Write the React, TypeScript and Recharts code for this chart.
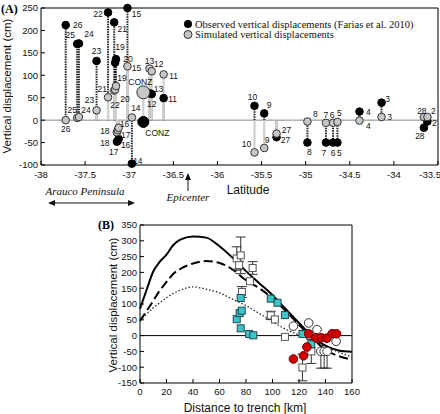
import React from "react";
import {
  ComposedChart,
  ErrorBar,
  Line,
  ReferenceLine,
  Scatter,
  ScatterChart,
  XAxis,
  YAxis,
} from "recharts";

// ---- panel A: coastal uplift along latitude ----
const LAT_TICKS = [-38, -37.5, -37, -36.5, -36, -35.5, -35, -34.5, -34, -33.5];
const DISP_TICKS_A = [-100, -50, 0, 50, 100, 150, 200, 250];

const STATIONS = ["26", "25", "24", "23", "22", "21", "20", "19", "15", "18", "17", "16", "14", "CONZ", "13", "12", "11", "10", "9", "27", "8", "7", "6", "5", "4", "3", "28", "2"];
const STATION_LAT = [-37.72, -37.59, -37.57, -37.37, -37.24, -37.17, -37.16, -37.15, -37.02, -37.14, -37.13, -37.12, -36.97, -36.84, -36.77, -36.745, -36.61, -35.58, -35.47, -35.33, -34.98, -34.77, -34.69, -34.64, -34.39, -34.14, -33.66, -33.62];
const OBSERVED = [212, 170, 171, 132, 240, 218, 128, 136, 250, -48, -46, -42, -97, -4, 60, 58, 49, 32, 15, -38, -50, -50, -50, -50, 19, 39, -17, -3];
const SIMULATED = [0, 5, 7, 22, 51, 66, 68, 76, 120, -27, -22, -17, 6, 62, 115, 109, 102, -72, -62, -30, -3, -6, -6, -4, -1, 7, 7, 7];

// ---- panel B: profile vs distance to trench ----
const KM_TICKS = [0, 20, 40, 60, 80, 100, 120, 140, 160];
const DISP_TICKS_B = [-150, -100, -50, 0, 50, 100, 150, 200, 250, 300, 350];

const MODEL_KM = [0, 5, 10, 15, 20, 25, 30, 40, 50, 60, 70, 80, 90, 100, 110, 120, 130, 140, 150, 160];
const MODEL_SOLID = [85, 145, 203, 234, 256, 286, 303, 314, 310, 283, 246, 204, 166, 128, 84, 40, -2, -32, -47, -51];
const MODEL_DASHED = [47, 78, 110, 143, 170, 195, 210, 228, 236, 230, 209, 175, 150, 118, 78, 34, -8, -45, -65, -76];
const MODEL_DOTTED = [47, 68, 88, 104, 120, 133, 143, 154, 147, 135, 115, 95, 70, 44, 20, 2, -15, -35, -52, -68];

const SQUARE_KM = [73, 76, 74.8, 76.9, 83, 85, 98.7, 101.8, 109.4, 122.6, 129.3];
const SQUARE_V = [244, 254, 223, 138, 172, 214, 64, 51, -4, -101, -50];
const SQUARE_ERR = [37, 58, 12, 17, 0, 20, 13, 0, 0, 42, 38];

const CYAN_KM = [73, 75.2, 76.8, 76, 76, 82.4, 85.5, 98.7, 103.8, 109.4, 122.6, 129.3];
const CYAN_V = [52, 71, 79, 119, 23, 5, 1, 117, 104, 65, 5, -27];

const CIRCLE_KM = [115.8, 127.3, 133.6, 136.5, 139, 141.2, 148];
const CIRCLE_V = [30, 40, 19, -50, -50, -50, -18];
const CIRCLE_ERR_DOWN = [0, 0, 0, 53, 53, 53, 0];

const RED_KM = [115.8, 123.4, 126, 127.3, 132.8, 137, 141, 145, 148.3];
const RED_V = [-74, -64, -36, 6, -7, -7, -8, 6, 6];

// label placement (dx, dy from marker centre)
const OBS_LABEL_OFFSET: Record<string, [number, number]> = {
  "26": [12, 0], "25": [-7, -9], "24": [10, -9], "23": [0, -10], "22": [-10, 2], "21": [8, 7],
  "20": [13, -4], "19": [4, -12], "15": [9, 6], "18": [-12, 1], "17": [-4, 11], "16": [7, 6],
  "14": [6, -3], CONZ: [14, 11], "13": [9, -4], "12": [0, 10], "11": [9, 1], "10": [-2, -9],
  "9": [5, -8], "27": [9, 3], "8": [2, 9], "7": [-2, 10], "6": [0, 10], "5": [2, 10],
  "4": [9, 0], "3": [6, -4], "28": [-4, 8], "2": [7, 2],
};
const SIM_LABEL_OFFSET: Record<string, [number, number]> = {
  "26": [0, 9], "25": [-5, -8], "24": [7, -7], "23": [-7, -10], "22": [7, 8], "21": [-12, -2],
  "20": [10, 9], "19": [6, -8], "15": [9, 2], "18": [-12, -1], "17": [8, 5], "16": [6, -4],
  "14": [4, -9], CONZ: [-3, -10], "13": [0, -8], "12": [7, -7], "11": [10, 2], "10": [-8, -8],
  "9": [3, -8], "27": [10, -4], "8": [8, -7], "7": [0, -8], "6": [-1, -8], "5": [2, -9],
  "4": [9, 5], "3": [8, 0], "28": [-2, -6], "2": [6, -6],
};

const SANS = "Liberation Sans, Arial, sans-serif";
const SERIF = "Liberation Serif, Times New Roman, serif";

const obsPoints = STATIONS.map((name, i) => ({ name, lat: STATION_LAT[i], v: OBSERVED[i] }));
const simPoints = STATIONS.map((name, i) => ({ name, lat: STATION_LAT[i], v: SIMULATED[i] }));

const modelData = (vals: number[]) => MODEL_KM.map((km, i) => ({ km, v: vals[i] }));
const squaresErr = SQUARE_KM.map((km, i) => ({ km, v: SQUARE_V[i], err: SQUARE_ERR[i] })).filter((d) => d.err > 0);
const squaresPlain = SQUARE_KM.map((km, i) => ({ km, v: SQUARE_V[i], err: SQUARE_ERR[i] })).filter((d) => d.err === 0);
const cyanData = CYAN_KM.map((km, i) => ({ km, v: CYAN_V[i] }));
const circlesErr = CIRCLE_KM.map((km, i) => ({ km, v: CIRCLE_V[i], err: [CIRCLE_ERR_DOWN[i], 0] })).filter((d) => d.err[0] > 0);
const circlesPlain = CIRCLE_KM.map((km, i) => ({ km, v: CIRCLE_V[i] })).filter((_, i) => CIRCLE_ERR_DOWN[i] === 0);
const redData = RED_KM.map((km, i) => ({ km, v: RED_V[i] }));

const tickStyle = { fontSize: 9.5, fill: "#111", fontFamily: SANS };

const stationDot = (kind: "obs" | "sim") => (props: any) => {
  const { cx, cy, payload } = props;
  if (cx == null || cy == null) return <g />;
  const big = payload.name === "CONZ";
  const r = big ? (kind === "obs" ? 5.5 : 6.5) : 3.8;
  return (
    <circle
      cx={cx}
      cy={cy}
      r={r}
      fill={kind === "obs" ? "#000" : "#c6c6c6"}
      stroke={kind === "obs" ? "#000" : "#333"}
      strokeWidth={1}
    />
  );
};

const stationLabel = (kind: "obs" | "sim") => (props: any) => {
  const { cx, cy, payload } = props;
  if (cx == null || cy == null) return <g />;
  const off = (kind === "obs" ? OBS_LABEL_OFFSET : SIM_LABEL_OFFSET)[payload.name] ?? [8, 0];
  return (
    <text
      x={cx + off[0]}
      y={cy + off[1]}
      textAnchor="middle"
      dominantBaseline="central"
      fontSize={8.5}
      fontFamily={SANS}
      fill="#111"
    >
      {payload.name}
    </text>
  );
};

const square = (fill: string, stroke: string) => (props: any) => {
  const { cx, cy } = props;
  if (cx == null || cy == null) return <g />;
  return <rect x={cx - 3.5} y={cy - 3.5} width={7} height={7} fill={fill} stroke={stroke} strokeWidth={1} />;
};

const dot = (fill: string, stroke: string) => (props: any) => {
  const { cx, cy } = props;
  if (cx == null || cy == null) return <g />;
  return <circle cx={cx} cy={cy} r={4.3} fill={fill} stroke={stroke} strokeWidth={1} />;
};

function PanelA() {
  return (
    <ScatterChart width={440} height={185} margin={{ top: 7, right: 1, bottom: 0, left: 11 }}>
      <XAxis
        type="number"
        dataKey="lat"
        domain={[-38, -33.5]}
        ticks={LAT_TICKS}
        height={20}
        tickSize={-4}
        tickMargin={10}
        tick={tickStyle}
        stroke="#000"
      />
      <XAxis
        xAxisId="top"
        orientation="top"
        type="number"
        domain={[-38, -33.5]}
        ticks={LAT_TICKS}
        height={1}
        tickSize={-4}
        tick={false}
        allowDataOverflow
        stroke="#000"
      />
      <YAxis
        type="number"
        dataKey="v"
        domain={[-100, 250]}
        ticks={DISP_TICKS_A}
        width={30}
        tickSize={-4}
        tickMargin={7}
        tick={tickStyle}
        stroke="#000"
      />
      <YAxis
        yAxisId="right"
        orientation="right"
        type="number"
        domain={[-100, 250]}
        ticks={DISP_TICKS_A}
        width={1}
        tickSize={-4}
        tick={false}
        allowDataOverflow
        stroke="#000"
      />
      <ReferenceLine y={0} stroke="#888" strokeWidth={1} />
      {obsPoints.map((p) => (
        <ReferenceLine
          key={`o-${p.name}`}
          segment={[{ x: p.lat, y: 0 }, { x: p.lat, y: p.v }]}
          stroke="#222"
          strokeWidth={2}
          strokeDasharray="1.5 1"
        />
      ))}
      {simPoints.map((p) => (
        <ReferenceLine
          key={`s-${p.name}`}
          segment={[{ x: p.lat, y: 0 }, { x: p.lat, y: p.v }]}
          stroke="#cfcfcf"
          strokeWidth={2.2}
        />
      ))}
      <Scatter data={obsPoints} shape={stationDot("obs")} isAnimationActive={false} />
      <Scatter data={simPoints} shape={stationDot("sim")} isAnimationActive={false} />
      <Scatter data={obsPoints} shape={stationLabel("obs")} isAnimationActive={false} />
      <Scatter data={simPoints} shape={stationLabel("sim")} isAnimationActive={false} />
    </ScatterChart>
  );
}

function PanelB() {
  return (
    <ComposedChart width={440} height={199} margin={{ top: 9, right: 87, bottom: 11, left: 110 }}>
      <XAxis
        type="number"
        dataKey="km"
        domain={[0, 160]}
        ticks={KM_TICKS}
        height={20}
        tickSize={-4}
        tickMargin={9}
        tick={tickStyle}
        stroke="#000"
      />
      <XAxis
        xAxisId="top"
        orientation="top"
        type="number"
        domain={[0, 160]}
        ticks={KM_TICKS}
        height={1}
        tickSize={-4}
        tick={false}
        allowDataOverflow
        stroke="#000"
      />
      <YAxis
        type="number"
        dataKey="v"
        domain={[-150, 350]}
        ticks={DISP_TICKS_B}
        width={30}
        tickSize={-4}
        tickMargin={7}
        tick={tickStyle}
        stroke="#000"
      />
      <YAxis
        yAxisId="right"
        orientation="right"
        type="number"
        domain={[-150, 350]}
        ticks={DISP_TICKS_B}
        width={1}
        tickSize={-4}
        tick={false}
        allowDataOverflow
        stroke="#000"
      />
      <ReferenceLine y={0} stroke="#000" strokeWidth={1} />
      <Line data={modelData(MODEL_SOLID)} dataKey="v" type="monotone" stroke="#000" strokeWidth={2} dot={false} isAnimationActive={false} />
      <Line data={modelData(MODEL_DASHED)} dataKey="v" type="monotone" stroke="#000" strokeWidth={2} strokeDasharray="9 4" dot={false} isAnimationActive={false} />
      <Line data={modelData(MODEL_DOTTED)} dataKey="v" type="monotone" stroke="#222" strokeWidth={1.3} strokeDasharray="1.5 2" dot={false} isAnimationActive={false} />
      <Scatter data={squaresErr} shape={square("#fff", "#555")} isAnimationActive={false}>
        <ErrorBar dataKey="err" direction="y" width={5} stroke="#333" strokeWidth={1} />
      </Scatter>
      <Scatter data={squaresPlain} shape={square("#fff", "#555")} isAnimationActive={false} />
      <Scatter data={cyanData} shape={square("#3cc6c8", "#1d4a55")} isAnimationActive={false} />
      <Scatter data={circlesErr} shape={dot("#fff", "#333")} isAnimationActive={false}>
        <ErrorBar dataKey="err" direction="y" width={5} stroke="#333" strokeWidth={1} />
      </Scatter>
      <Scatter data={circlesPlain} shape={dot("#fff", "#333")} isAnimationActive={false} />
      <Scatter data={redData} shape={dot("#d40000", "#6a0000")} isAnimationActive={false} />
    </ComposedChart>
  );
}

export default function App() {
  return (
    <div style={{ position: "absolute", left: 0, top: 0, width: 440, height: 414, background: "#fff", fontFamily: SANS }}>
      <div style={{ position: "absolute", left: 0, top: 0 }}>
        <PanelA />
      </div>
      <div style={{ position: "absolute", left: 0, top: 215 }}>
        <PanelB />
      </div>
      <svg width={440} height={414} style={{ position: "absolute", left: 0, top: 0, pointerEvents: "none" }}>
        {/* panel A annotations */}
        <text x={1} y={13} fontFamily={SERIF} fontWeight="bold" fontSize={12}>(A)</text>
        <text transform="translate(11,86) rotate(-90)" textAnchor="middle" fontFamily={SANS} fontSize={11.5} fill="#111">
          Vertical displacement (cm)
        </text>
        <text x={248} y={194} textAnchor="middle" fontFamily={SANS} fontSize={12} fill="#111">Latitude</text>
        <circle cx={188} cy={24} r={4} fill="#000" />
        <circle cx={188} cy={34.5} r={4} fill="#c6c6c6" stroke="#333" strokeWidth={1} />
        <text x={195} y={27.5} fontFamily={SERIF} fontSize={10.5} fill="#111">
          Observed vertical displacements (Farias et al. 2010)
        </text>
        <text x={195} y={38} fontFamily={SERIF} fontSize={10.5} fill="#111">
          Simulated vertical displacements
        </text>
        <text x={85} y={195} textAnchor="middle" fontFamily={SERIF} fontStyle="italic" fontSize={11} fill="#111">
          Arauco Peninsula
        </text>
        <line x1={53} y1={203} x2={130} y2={203} stroke="#111" strokeWidth={1} />
        <polygon points="48,203 55,200 55,206" fill="#111" />
        <polygon points="135,203 128,200 128,206" fill="#111" />
        <text x={188} y={201} textAnchor="middle" fontFamily={SERIF} fontStyle="italic" fontSize={11} fill="#111">
          Epicenter
        </text>
        <line x1={188} y1={191} x2={188} y2={178} stroke="#111" strokeWidth={1} />
        <polygon points="188,173 185,180 191,180" fill="#111" />
        {/* panel B annotations */}
        <text x={98} y={229} fontFamily={SERIF} fontWeight="bold" fontSize={12}>(B)</text>
        <text transform="translate(117,305) rotate(-90)" textAnchor="middle" fontFamily={SANS} fontSize={11.5} fill="#111">
          Vertical displacement (cm)
        </text>
        <text x={245} y={412} textAnchor="middle" fontFamily={SANS} fontSize={12} fill="#111">
          Distance to trench [km]
        </text>
      </svg>
    </div>
  );
}
